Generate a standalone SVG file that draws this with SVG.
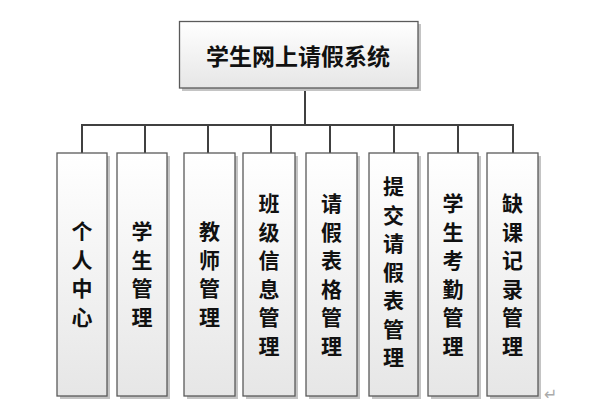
<svg xmlns="http://www.w3.org/2000/svg" width="603" height="412" viewBox="0 0 603 412">
<style>
.box{fill:url(#g);stroke:#5a5a5a;stroke-width:1.3}
.sh{fill:#c4c4c4}
.t{font-family:"Noto Sans CJK SC","Noto Sans",sans-serif;font-weight:bold;font-size:21px;fill:#111;text-anchor:middle;dominant-baseline:central}
.c{stroke:#404040;stroke-width:2;fill:none}
</style>
<defs>
<linearGradient id="g" x1="0" y1="0" x2="0" y2="1">
<stop offset="0" stop-color="#ffffff"/>
<stop offset="1" stop-color="#e6e6e6"/>
</linearGradient>
</defs>
<rect width="603" height="412" fill="#fff"/>
<g id="connectors">
<path class="c" d="M305 88V125M82 125H513M82 124V153M145 124V153M208 124V153M271 124V153M330 124V153M394 124V153M458 124V153M513 124V153"/>
</g>
<g id="root">
<rect class="sh" x="182" y="24" width="239" height="67"/>
<rect class="box" x="179.5" y="21.5" width="238.5" height="66.5"/>
<text class="t" x="298" y="55" style="font-size:23px">学生网上请假系统</text>
</g>
<g id="n1">
<rect class="sh" x="60" y="156" width="50" height="243"/>
<rect class="box" x="57" y="153" width="50" height="243"/>
<text class="t" x="82"><tspan x="82" y="230">个</tspan><tspan x="82" y="258.5">人</tspan><tspan x="82" y="287">中</tspan><tspan x="82" y="315.5">心</tspan></text>
</g>
<g id="n2">
<rect class="sh" x="120" y="156" width="50" height="243"/>
<rect class="box" x="117" y="153" width="50" height="243"/>
<text class="t"><tspan x="142" y="230">学</tspan><tspan x="142" y="258.5">生</tspan><tspan x="142" y="287">管</tspan><tspan x="142" y="315.5">理</tspan></text>
</g>
<g id="n3">
<rect class="sh" x="187" y="156" width="51" height="243"/>
<rect class="box" x="184" y="153" width="51" height="243"/>
<text class="t"><tspan x="209.5" y="230">教</tspan><tspan x="209.5" y="258.5">师</tspan><tspan x="209.5" y="287">管</tspan><tspan x="209.5" y="315.5">理</tspan></text>
</g>
<g id="n4">
<rect class="sh" x="246" y="156" width="52" height="243"/>
<rect class="box" x="243" y="153" width="52" height="243"/>
<text class="t"><tspan x="269" y="202">班</tspan><tspan x="269" y="230.5">级</tspan><tspan x="269" y="259">信</tspan><tspan x="269" y="287.5">息</tspan><tspan x="269" y="316">管</tspan><tspan x="269" y="344.5">理</tspan></text>
</g>
<g id="n5">
<rect class="sh" x="309" y="156" width="51" height="243"/>
<rect class="box" x="306" y="153" width="51" height="243"/>
<text class="t"><tspan x="331.5" y="202">请</tspan><tspan x="331.5" y="230.5">假</tspan><tspan x="331.5" y="259">表</tspan><tspan x="331.5" y="287.5">格</tspan><tspan x="331.5" y="316">管</tspan><tspan x="331.5" y="344.5">理</tspan></text>
</g>
<g id="n6">
<rect class="sh" x="372" y="156" width="49" height="243"/>
<rect class="box" x="369" y="153" width="49" height="243"/>
<text class="t"><tspan x="393.5" y="185">提</tspan><tspan x="393.5" y="213.5">交</tspan><tspan x="393.5" y="242">请</tspan><tspan x="393.5" y="270.5">假</tspan><tspan x="393.5" y="299">表</tspan><tspan x="393.5" y="327.5">管</tspan><tspan x="393.5" y="356">理</tspan></text>
</g>
<g id="n7">
<rect class="sh" x="431" y="156" width="50" height="243"/>
<rect class="box" x="428" y="153" width="50" height="243"/>
<text class="t"><tspan x="453" y="202">学</tspan><tspan x="453" y="230.5">生</tspan><tspan x="453" y="259">考</tspan><tspan x="453" y="287.5">勤</tspan><tspan x="453" y="316">管</tspan><tspan x="453" y="344.5">理</tspan></text>
</g>
<g id="n8">
<rect class="sh" x="490" y="156" width="51" height="243"/>
<rect class="box" x="487" y="153" width="51" height="243"/>
<text class="t"><tspan x="512.5" y="202">缺</tspan><tspan x="512.5" y="230.5">课</tspan><tspan x="512.5" y="259">记</tspan><tspan x="512.5" y="287.5">录</tspan><tspan x="512.5" y="316">管</tspan><tspan x="512.5" y="344.5">理</tspan></text>
</g>
<text x="544" y="400" style="font-family:'DejaVu Sans',sans-serif;font-size:16px;fill:#aaa">↵</text>
</svg>
